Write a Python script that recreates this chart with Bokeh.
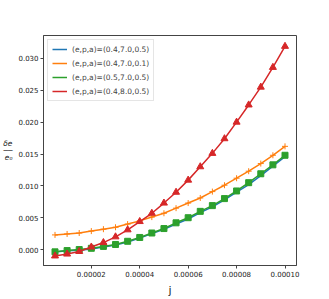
from bokeh.plotting import figure
from bokeh.models import (Range1d, FixedTicker, PrintfTickFormatter, Legend, LegendItem)
from bokeh.embed import file_html
from bokeh.resources import INLINE

j = [0.000005, 0.00001, 0.000015, 0.00002, 0.000025, 0.00003, 0.000035, 0.00004,
     0.000045, 0.00005, 0.000055, 0.00006, 0.000065, 0.00007, 0.000075, 0.00008,
     0.000085, 0.00009, 0.000095, 0.0001]

blue = [-0.0004, -0.0002, -0.0001, 0.0001, 0.0004, 0.0007, 0.0012, 0.0018, 0.0025, 0.0032,
        0.0040, 0.0048, 0.0058, 0.0067, 0.0078, 0.0090, 0.0102, 0.0116, 0.0131, 0.0146]
orange = [0.0023, 0.00245, 0.0026, 0.0029, 0.0032, 0.0035, 0.0040, 0.0045, 0.0051, 0.0057,
          0.0065, 0.0073, 0.0081, 0.0091, 0.0101, 0.0112, 0.0123, 0.0135, 0.0148, 0.0162]
green = [-0.00036, -0.00016, 0.0, 0.0002, 0.0005, 0.0008, 0.0013, 0.0019, 0.0026, 0.0033,
         0.0042, 0.0050, 0.0060, 0.0069, 0.0080, 0.0092, 0.0105, 0.0119, 0.0133, 0.0148]
red = [-0.0010, -0.0007, -0.0003, 0.0004, 0.0011, 0.0020, 0.0031, 0.0044, 0.0057, 0.0073,
       0.0090, 0.0109, 0.0130, 0.0151, 0.0174, 0.0200, 0.0227, 0.0255, 0.0286, 0.0319]

labels = ["(e,p,a)=(0.4,7.0,0.5)", "(e,p,a)=(0.4,7.0,0.1)",
          "(e,p,a)=(0.5,7.0,0.5)", "(e,p,a)=(0.4,8.0,0.5)"]
x_ticks = [0.00002, 0.00004, 0.00006, 0.00008, 0.0001]
y_ticks = [0.0, 0.005, 0.010, 0.015, 0.020, 0.025, 0.030]

FONT = "DejaVu Sans"

p = figure(width=329, height=299, output_backend="svg", toolbar_location=None,
           x_range=Range1d(2.5e-7, 1.0475e-4), y_range=Range1d(-0.0025, 0.0336),
           min_border_left=41, min_border_right=33, min_border_top=35, min_border_bottom=33)
p.grid.visible = False
p.background_fill_color = "white"
p.border_fill_color = "white"
p.outline_line_color = "#444444"
p.outline_line_width = 1

for ax in (p.xaxis[0], p.yaxis[0]):
    ax.axis_line_color = "#444444"
    ax.major_tick_line_color = "#444444"
    ax.major_tick_out = 3
    ax.major_tick_in = 0
    ax.minor_tick_line_color = None
    ax.major_label_text_font = FONT
    ax.major_label_text_font_size = "7px"
    ax.major_label_text_color = "#222222"
    ax.major_label_standoff = 2
    ax.axis_label_text_font = FONT
    ax.axis_label_text_color = "#222222"

p.xaxis.ticker = FixedTicker(ticks=x_ticks)
p.xaxis.formatter = PrintfTickFormatter(format="%.5f")
p.yaxis.ticker = FixedTicker(ticks=y_ticks)
p.yaxis.formatter = PrintfTickFormatter(format="%.3f")

p.xaxis.axis_label = "j"
p.xaxis.axis_label_text_font_size = "11px"
p.xaxis.axis_label_text_font_style = "normal"
p.xaxis.axis_label_standoff = 4

p.yaxis.axis_label = "δe\n──\ne₀"
p.yaxis.axis_label_orientation = "normal"
p.yaxis.axis_label_text_font_size = "7.5px"
p.yaxis.axis_label_text_font_style = "italic"
p.yaxis.axis_label_text_line_height = 0.8
p.yaxis.axis_label_standoff = 3

colors = ["#1f77b4", "#ff7f0e", "#2ca02c", "#d62728"]
series = [blue, orange, green, red]
items = []
for i, (ys, c) in enumerate(zip(series, colors)):
    r = p.line(j, ys, line_color=c, line_width=1.5)
    items.append(LegendItem(label=labels[i], renderers=[r]))
    if i == 0:
        p.scatter(j, ys, marker="x", size=4, line_color=c, line_width=1)
    elif i == 1:
        p.scatter(j, ys, marker="cross", size=6, line_color=c, line_width=1)
    elif i == 2:
        p.scatter(j, ys, marker="square", size=6, fill_color=c, line_color=c)
    else:
        p.scatter(j, ys, marker="triangle", size=7, fill_color=c, line_color=c)

legend = Legend(items=items, location="top_left", margin=4, padding=4, spacing=4,
                label_height=10, glyph_height=10, glyph_width=15, label_standoff=5,
                label_text_font=FONT, label_text_font_size="7.5px",
                border_line_color="#cccccc", border_line_width=1,
                background_fill_alpha=0.8)
p.add_layout(legend)

open("out.html", "w").write(file_html(p, INLINE))
